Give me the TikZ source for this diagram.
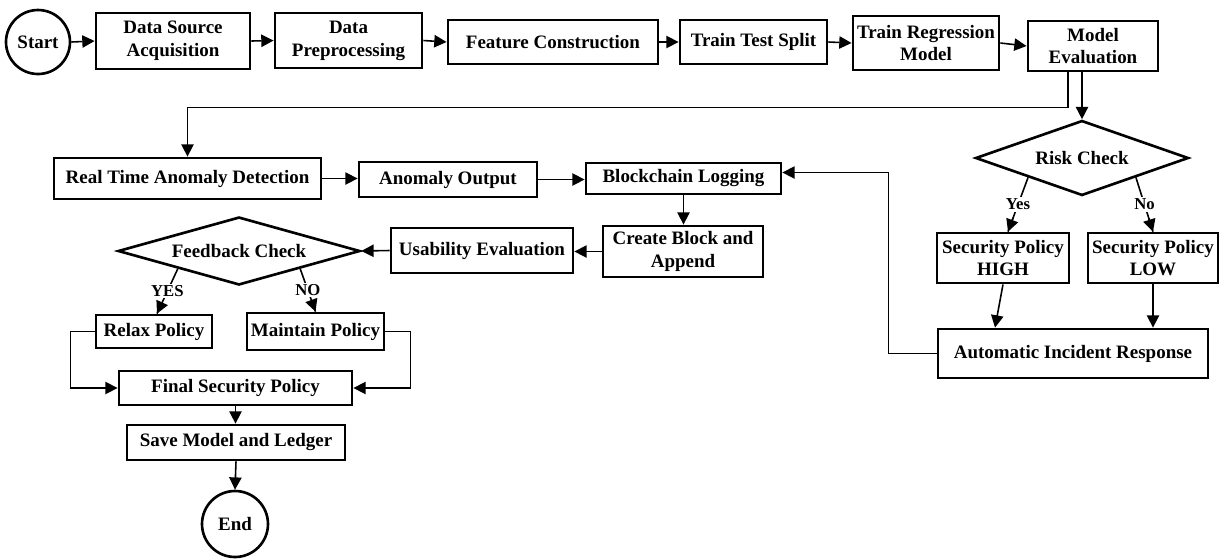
\documentclass[tikz,border=0pt]{standalone}
\usepackage{fontspec}
\setmainfont{Liberation Serif}
\usetikzlibrary{shapes.geometric,arrows.meta,calc}
\newlength\px
\setlength\px{0.02cm}
\begin{document}
\begin{tikzpicture}[x=0.02cm,y=-0.02cm,
  every node/.style={font=\fontsize{10.8}{13}\selectfont\bfseries, align=center, inner sep=0pt},
  box/.style={draw, line width=1.6pt, rectangle},
  term/.style={draw, line width=1.5pt, circle},
  dec/.style={draw, line width=1.5pt, diamond},
  arr/.style={line width=0.9pt, -{Triangle[length=7pt,width=7pt]}},
  plain/.style={line width=0.9pt},
  lab/.style={fill=white, inner sep=1pt, font=\fontsize{9.5}{10}\selectfont\bfseries}]
\useasboundingbox (0,0) rectangle (1225,559);
% nodes
\node[term, minimum size=64*\px] (start) at (38,42) {Start};
\node[box, minimum width=154*\px, minimum height=56*\px] (dsa) at (173,41) {Data Source\\Acquisition};
\node[box, minimum width=147*\px, minimum height=55*\px] (pre) at (348.5,40.5) {Data\\Preprocessing};
\node[box, minimum width=210*\px, minimum height=44*\px] (fc) at (553,42) {Feature Construction};
\node[box, minimum width=147*\px, minimum height=44*\px] (tts) at (753.5,42) {Train Test Split};
\node[box, minimum width=146*\px, minimum height=54*\px] (trm) at (926,43) {Train Regression\\Model};
\node[box, minimum width=130*\px, minimum height=50*\px] (me) at (1093,46) {Model\\Evaluation};
\node[dec, aspect=2.84, minimum width=213*\px, minimum height=75*\px] (risk) at (1082,158) {Risk Check};
\node[box, minimum width=132*\px, minimum height=50*\px] (high) at (1003,258) {Security Policy\\HIGH};
\node[box, minimum width=130*\px, minimum height=50*\px] (low) at (1153,258) {Security Policy\\LOW};
\node[box, minimum width=270*\px, minimum height=49*\px] (air) at (1073,353.5) {Automatic Incident Response};
\node[box, minimum width=267*\px, minimum height=41*\px] (rtad) at (187.5,178.5) {Real Time Anomaly Detection};
\node[box, minimum width=178*\px, minimum height=35*\px] (ao) at (448,179.5) {Anomaly Output};
\node[box, minimum width=195*\px, minimum height=31*\px] (bl) at (683.5,178.5) {Blockchain Logging};
\node[box, minimum width=160*\px, minimum height=51*\px] (cba) at (683,251.5) {Create Block and\\Append};
\node[box, minimum width=182*\px, minimum height=45*\px] (ue) at (482,250.5) {Usability Evaluation};
\node[dec, aspect=3.56, minimum width=242*\px, minimum height=68*\px] (fb) at (239,251) {Feedback Check};
\node[box, minimum width=116*\px, minimum height=33*\px] (relax) at (154,331.5) {Relax Policy};
\node[box, minimum width=137*\px, minimum height=37*\px] (maint) at (315.5,331.5) {Maintain Policy};
\node[box, minimum width=233*\px, minimum height=34*\px] (fsp) at (235.5,388) {Final Security Policy};
\node[box, minimum width=218*\px, minimum height=35*\px] (save) at (236,442.5) {Save Model and Ledger};
\node[term, minimum size=66*\px] (end) at (235,524) {End};
% connectors
\draw[arr] (start.east) -- (dsa.west);
\draw[arr] (dsa.east) -- (pre.west);
\draw[arr] (pre.east) -- (fc.west);
\draw[arr] (fc.east) -- (tts.west);
\draw[arr] (tts.east) -- (trm.west);
\draw[arr] (trm.east) -- (me.west);
\draw[arr] (risk.north |- me.south) -- (risk.north);
\draw[arr] ($(me.south)+(-25,0)$) -- ++(0,35) -| (rtad.north);
\draw[plain] (risk.south west) -- node[lab] {Yes} ($(high.north)+(5,0)$);
\draw[arr] ($(risk.south west)!0.75!($(high.north)+(5,0)$)$) -- ($(high.north)+(5,0)$);
\draw[plain] (risk.south east) -- node[lab] {No} (low.north);
\draw[arr] ($(risk.south east)!0.75!(low.north)$) -- (low.north);
\draw[arr] (high.south) -- ($(air.north)+(-78,0)$);
\draw[arr] (low.south) -- (low.south |- air.north);
\draw[arr] (air.west) -- ++(-48,0) |- ($(bl.east)+(0,-6)$);
\draw[arr] (rtad.east) -- (rtad.east -| ao.west);
\draw[arr] (ao.east) -- (ao.east -| bl.west);
\draw[arr] (bl.south) -- (bl.south |- cba.north);
\draw[arr] (cba.west) -- (cba.west -| ue.east);
\draw[arr] (ue.west) -- (fb.east);
\draw[plain] (fb.south west) -- node[lab] {YES} ($(relax.north)+(3,0)$);
\draw[arr] ($(fb.south west)!0.75!($(relax.north)+(3,0)$)$) -- ($(relax.north)+(3,0)$);
\draw[plain] (fb.south east) -- node[lab] {NO} (maint.north);
\draw[arr] ($(fb.south east)!0.75!(maint.north)$) -- (maint.north);
\draw[arr] (relax.west) -- ++(-24,0) |- (fsp.west);
\draw[arr] (maint.east) -- ++(25,0) |- (fsp.east);
\draw[arr] (fsp.south) -- (fsp.south |- save.north);
\draw[arr] (save.south) -- (end.north);
\end{tikzpicture}
\end{document}
